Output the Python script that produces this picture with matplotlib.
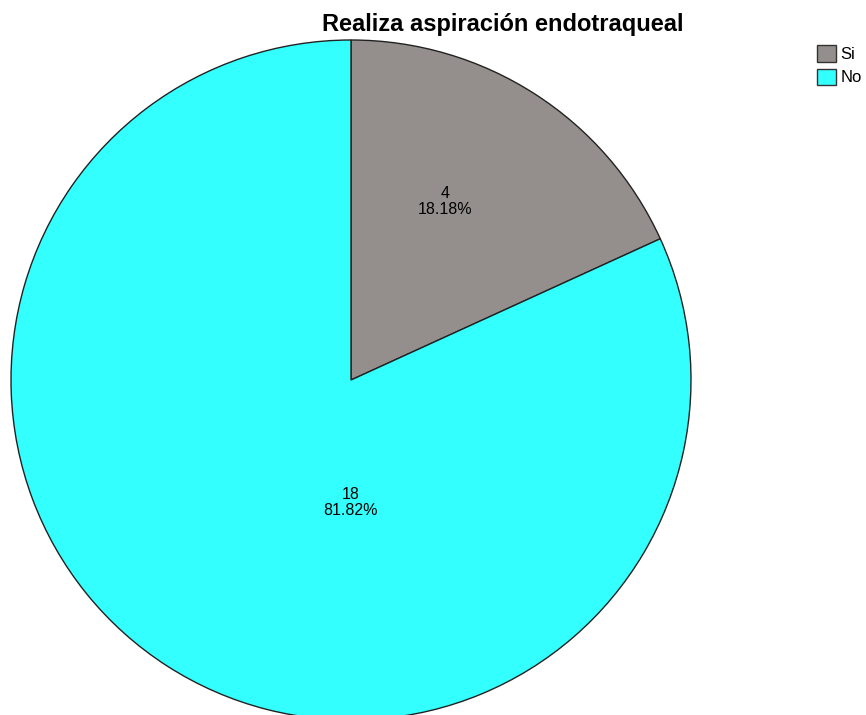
import matplotlib.pyplot as plt
import matplotlib.patches as mpatches

categories = ["Si", "No"]
counts = [4, 18]
colors = ["#948f8c", "#33ffff"]

plt.rcParams['font.family'] = ['Liberation Sans', 'DejaVu Sans']

fig = plt.figure(figsize=(8.66, 7.15), dpi=100)
# pie centre about (351, 380) px, radius about 340 px
ax = fig.add_axes([11 / 866, -5 / 715, 680 / 866, 680 / 715])
wedges, _ = ax.pie(counts, colors=colors, startangle=90, counterclock=False,
                   radius=1, wedgeprops=dict(edgecolor="#222222", linewidth=1))
ax.set_xlim(-1, 1)
ax.set_ylim(-1, 1)
ax.set_aspect("equal")

total = sum(counts)
label_pos = [(0.276, 0.525), (0.0, -0.36)]
for c, (x, y) in zip(counts, label_pos):
    ax.text(x, y, f"{c}\n{c / total * 100:.2f}%", ha="center", va="center",
            fontsize=11.5, linespacing=1.1)

fig.text(503 / 866, 1 - 25 / 715, "Realiza aspiración endotraqueal",
         ha="center", va="center", fontsize=17, fontweight="bold")

handles = [mpatches.Patch(facecolor=col, edgecolor="#333333", label=cat)
           for cat, col in zip(categories, colors)]
fig.legend(handles=handles, loc="upper left", bbox_to_anchor=(817 / 866, 1 - 45 / 715),
           frameon=False, fontsize=12, handlelength=1.15, handleheight=1.15,
           handletextpad=0.25, labelspacing=0.4, borderaxespad=0, borderpad=0)

fig.savefig("out.png", dpi=100)
